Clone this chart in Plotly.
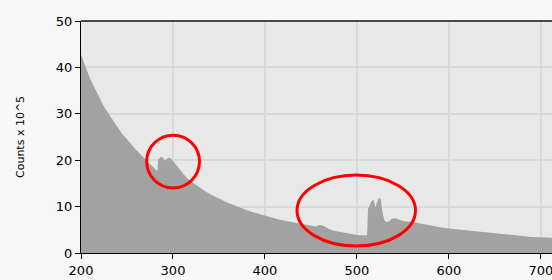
import plotly.graph_objects as go

wavelength = [200, 205, 210, 215, 220, 225, 230, 235, 240, 245, 250, 255, 260, 265, 270, 275, 280, 283,
              284, 286, 288, 290, 292, 294, 296, 298, 300, 303, 306, 310, 314, 318, 322, 326, 330, 335,
              340, 345, 350, 355, 360, 365, 370, 375, 380, 385, 390, 395, 400, 405, 410, 415, 420, 425,
              430, 435, 440, 445, 450, 455, 458, 462, 466, 470, 475, 480, 485, 490, 495, 500, 505, 511,
              512, 514, 516, 518, 520, 522, 524, 526, 528, 530, 532, 535, 538, 542, 546, 550, 555, 560,
              565, 570, 575, 580, 585, 590, 595, 600, 610, 620, 630, 640, 650, 660, 670, 680, 690, 700, 712]
counts = [42.8, 40.0, 37.5, 35.5, 33.5, 31.5, 30.0, 28.5, 27.0, 25.6, 24.5, 23.3, 22.2, 21.2, 20.2, 19.3, 18.4, 17.6,
          20.2, 20.6, 20.8, 20.2, 20.0, 20.4, 20.6, 20.3, 19.8, 19.1, 18.3, 17.3, 16.4, 15.7, 15.1, 14.6, 13.9, 13.3,
          12.7, 12.2, 11.7, 11.3, 10.8, 10.4, 10.0, 9.6, 9.2, 8.9, 8.6, 8.3, 8.1, 7.8, 7.5, 7.2, 7.0, 6.8,
          6.6, 6.4, 6.2, 6.0, 5.8, 5.7, 6.0, 6.0, 5.6, 5.1, 4.8, 4.6, 4.4, 4.2, 4.0, 3.9, 3.8, 3.8,
          9.5, 10.5, 11.2, 11.4, 9.8, 11.0, 11.9, 11.5, 8.5, 7.0, 6.7, 6.8, 7.4, 7.5, 7.2, 6.9, 6.8, 6.7,
          6.5, 6.3, 6.1, 5.9, 5.7, 5.5, 5.4, 5.3, 5.1, 4.8, 4.6, 4.4, 4.2, 4.0, 3.8, 3.6, 3.45, 3.4, 3.3]

x_ticks = [200, 300, 400, 500, 600, 700]
y_ticks = [0, 10, 20, 30, 40, 50]

# highlighted regions (x0, x1, y0, y1)
circle_x0 = [271.4, 434.8]
circle_x1 = [328.8, 563.6]
circle_y0 = [14.0, 1.5]
circle_y1 = [25.4, 16.8]

fig = go.Figure()
fig.add_trace(go.Scatter(
    x=wavelength, y=counts, mode="lines", line=dict(width=0, shape="linear", color="#a2a2a2"),
    fill="tozeroy", fillcolor="#a2a2a2", hoverinfo="skip", showlegend=False))

for a, b, c, d in zip(circle_x0, circle_x1, circle_y0, circle_y1):
    fig.add_shape(type="circle", xref="x", yref="y", x0=a, x1=b, y0=c, y1=d,
                  line=dict(color="#ff0000", width=3), layer="above")

fig.add_shape(type="line", xref="paper", yref="paper", x0=0, x1=1, y0=1, y1=1,
              line=dict(color="#4a4a4a", width=2), layer="above")

fig.add_annotation(text="Counts x 10^5", xref="paper", yref="paper", x=-0.1295, y=0.5,
                   xanchor="center", yanchor="middle", textangle=-90, showarrow=False,
                   font=dict(size=11, color="#000000", family="DejaVu Sans"))

fig.update_layout(
    width=552, height=280,
    margin=dict(l=81, r=0, t=21, b=27, autoexpand=False),
    paper_bgcolor="#f7f7f7", plot_bgcolor="#e8e8e8",
    font=dict(family="DejaVu Sans", size=13, color="#000000"),
    xaxis=dict(range=[200, 712], tickvals=x_ticks, showgrid=True, gridcolor="#d9d9d9", gridwidth=2,
               ticks="outside", ticklen=5, tickcolor="#000000", showline=True, linecolor="#000000",
               linewidth=1, zeroline=False, fixedrange=True, automargin=False,
               ticklabeloverflow="allow"),
    yaxis=dict(range=[0, 50], tickvals=y_ticks, showgrid=True, gridcolor="#d9d9d9", gridwidth=2,
               ticks="outside", ticklen=5, tickcolor="#000000", showline=True, linecolor="#000000",
               linewidth=1, zeroline=False, fixedrange=True, automargin=False),
)

fig.write_html("out.html", config={"displayModeBar": False},
               post_script="document.body.style.margin='0px';")
